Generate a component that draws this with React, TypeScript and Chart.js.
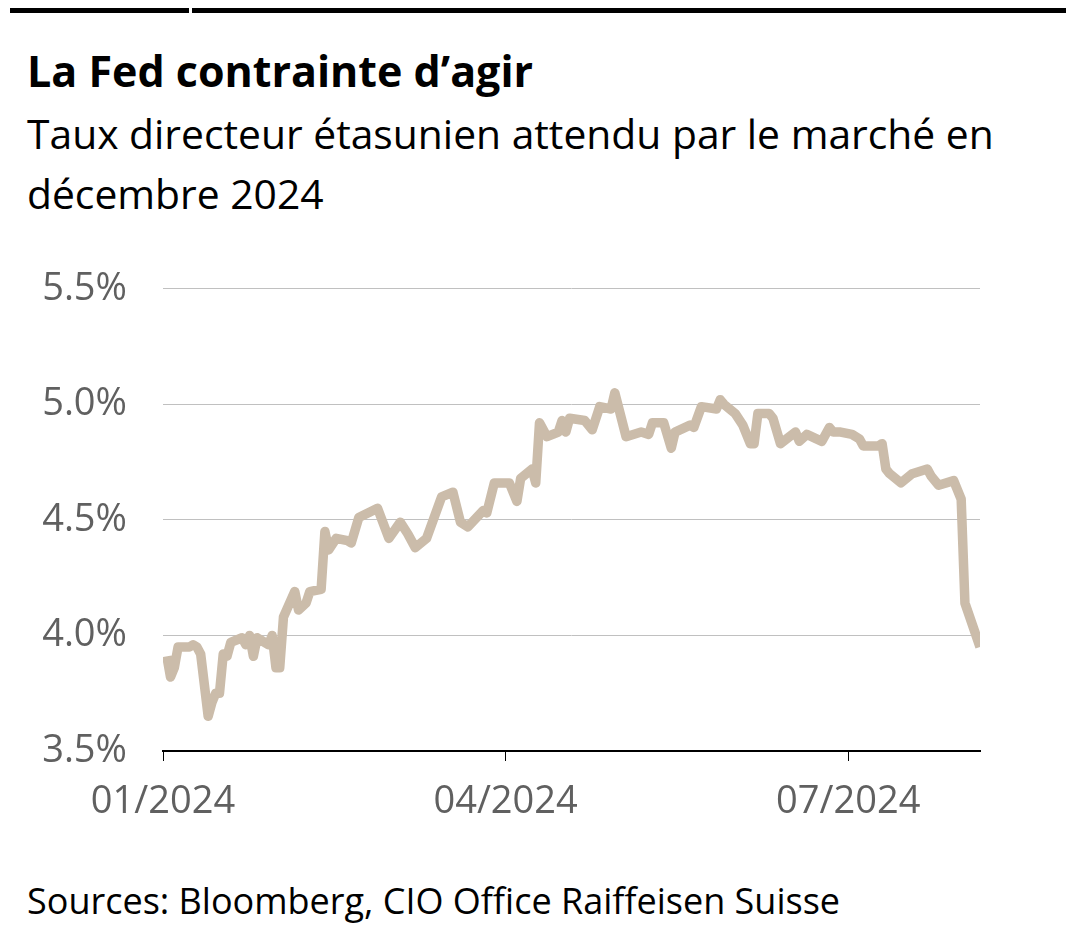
import React, { useEffect, useRef } from "react";
import { Chart, registerables } from "chart.js";

Chart.register(...registerables);

const dates = [
  "2024-01-02", "2024-01-03", "2024-01-04", "2024-01-05", "2024-01-08", "2024-01-09", "2024-01-10", "2024-01-11",
  "2024-01-13", "2024-01-14", "2024-01-15", "2024-01-16", "2024-01-17", "2024-01-18", "2024-01-19", "2024-01-22",
  "2024-01-23", "2024-01-24", "2024-01-25", "2024-01-26", "2024-01-28", "2024-01-29", "2024-01-30", "2024-01-31",
  "2024-02-01", "2024-02-02", "2024-02-05", "2024-02-06", "2024-02-08", "2024-02-09", "2024-02-12", "2024-02-13",
  "2024-02-14", "2024-02-16", "2024-02-19", "2024-02-20", "2024-02-22", "2024-02-27", "2024-03-01", "2024-03-04",
  "2024-03-06", "2024-03-08", "2024-03-11", "2024-03-15", "2024-03-18", "2024-03-20", "2024-03-22", "2024-03-26",
  "2024-03-27", "2024-03-29", "2024-04-02", "2024-04-04", "2024-04-05", "2024-04-08", "2024-04-09", "2024-04-10",
  "2024-04-12", "2024-04-15", "2024-04-16", "2024-04-17", "2024-04-18", "2024-04-22", "2024-04-24", "2024-04-26",
  "2024-04-29", "2024-04-30", "2024-05-03", "2024-05-07", "2024-05-09", "2024-05-10", "2024-05-13", "2024-05-15",
  "2024-05-16", "2024-05-20", "2024-05-21", "2024-05-23", "2024-05-27", "2024-05-28", "2024-05-29", "2024-06-01",
  "2024-06-03", "2024-06-05", "2024-06-06", "2024-06-07", "2024-06-10", "2024-06-11", "2024-06-13", "2024-06-17",
  "2024-06-18", "2024-06-20", "2024-06-24", "2024-06-26", "2024-06-27", "2024-06-29", "2024-07-02", "2024-07-04",
  "2024-07-05", "2024-07-09", "2024-07-10", "2024-07-11", "2024-07-12", "2024-07-15", "2024-07-18", "2024-07-22",
  "2024-07-23", "2024-07-25", "2024-07-29", "2024-07-30", "2024-07-31", "2024-08-01", "2024-08-05",
];

const rates = [
  3.91, 3.82, 3.86, 3.95, 3.95, 3.96, 3.95, 3.92,
  3.65, 3.71, 3.75, 3.75, 3.92, 3.91, 3.97, 3.99,
  3.96, 4.0, 3.91, 3.99, 3.97, 3.96, 4.0, 3.86,
  3.86, 4.08, 4.19, 4.11, 4.14, 4.19, 4.2, 4.45,
  4.37, 4.42, 4.41, 4.4, 4.51, 4.55, 4.42, 4.49,
  4.44, 4.38, 4.42, 4.6, 4.62, 4.49, 4.47, 4.54,
  4.53, 4.66, 4.66, 4.58, 4.68, 4.72, 4.66, 4.92,
  4.86, 4.88, 4.93, 4.88, 4.94, 4.93, 4.89, 4.99,
  4.98, 5.05, 4.86, 4.88, 4.87, 4.92, 4.92, 4.81,
  4.88, 4.91, 4.9, 4.99, 4.98, 5.02, 5.0, 4.96,
  4.91, 4.83, 4.83, 4.96, 4.96, 4.94, 4.83, 4.88,
  4.84, 4.87, 4.84, 4.9, 4.88, 4.88, 4.87, 4.85,
  4.82, 4.82, 4.83, 4.72, 4.7, 4.66, 4.7, 4.72,
  4.69, 4.65, 4.67, 4.63, 4.59, 4.14, 3.95,
];

const xTickDates = ["2024-01-01", "2024-04-01", "2024-07-01"];
const xTickLabels = ["01/2024", "04/2024", "07/2024"];
const xRangeDates = ["2024-01-01", "2024-08-05"];
const yTicks = [3.5, 4.0, 4.5, 5.0, 5.5];

const dayOf = (s: string) =>
  Math.round((Date.parse(s + "T00:00:00Z") - Date.UTC(2024, 0, 1)) / 86400000);

const FONT = "'Open Sans', 'Noto Sans', sans-serif";

export default function App() {
  const ref = useRef<HTMLCanvasElement | null>(null);

  useEffect(() => {
    if (!ref.current) return;
    const xTicks = xTickDates.map(dayOf);
    const chart = new Chart(ref.current, {
      type: "line",
      data: {
        datasets: [
          {
            data: dates.map((d, i) => ({ x: dayOf(d), y: rates[i] })),
            borderColor: "#cbbcaa",
            borderWidth: 9.5,
            pointRadius: 0,
            tension: 0,
            borderJoinStyle: "round",
            borderCapStyle: "butt",
          },
        ],
      },
      options: {
        animation: false,
        responsive: false,
        maintainAspectRatio: false,
        layout: { padding: { top: 27, right: 94, left: 0, bottom: 0 } },
        plugins: { legend: { display: false }, tooltip: { enabled: false } },
        scales: {
          x: {
            type: "linear",
            min: dayOf(xRangeDates[0]),
            max: dayOf(xRangeDates[1]),
            afterBuildTicks: (s: any) => {
              s.ticks = xTicks.map((v) => ({ value: v }));
            },
            afterFit: (s: any) => {
              s.height = 89;
            },
            ticks: {
              autoSkip: false,
              maxRotation: 0,
              padding: 18,
              color: "#606060",
              font: { family: FONT, size: 38, weight: "400" },
              callback: (v: any) => xTickLabels[xTicks.indexOf(Number(v))] ?? "",
            },
            grid: {
              display: true,
              drawOnChartArea: false,
              drawTicks: true,
              tickLength: 10,
              color: "#000",
              lineWidth: 1,
            },
            border: { display: true, color: "#000", width: 2 },
          },
          y: {
            min: 3.5,
            max: 5.5,
            afterBuildTicks: (s: any) => {
              s.ticks = yTicks.map((v) => ({ value: v }));
            },
            afterFit: (s: any) => {
              s.width = 163;
            },
            ticks: {
              padding: 36,
              color: "#606060",
              font: { family: FONT, size: 38, weight: "400" },
              callback: (v: any) => Number(v).toFixed(1) + "%",
            },
            grid: { color: "#c0c0c0", lineWidth: 1, drawTicks: false },
            border: { display: false },
          },
        },
      },
    });
    return () => chart.destroy();
  }, []);

  return (
    <div
      style={{
        position: "fixed",
        left: 0,
        top: 0,
        width: 1074,
        height: 943,
        background: "#fff",
        fontFamily: FONT,
        color: "#000",
        overflow: "hidden",
      }}
    >
      <div style={{ position: "absolute", left: 10, top: 8, width: 179, height: 5, background: "#000" }} />
      <div style={{ position: "absolute", left: 192, top: 8, width: 874, height: 5, background: "#000" }} />
      <div
        style={{
          position: "absolute",
          left: 27,
          top: 43,
          fontSize: 43,
          lineHeight: "56px",
          fontWeight: 700,
          whiteSpace: "nowrap",
        }}
      >
        La Fed contrainte d’agir
      </div>
      <div
        style={{
          position: "absolute",
          left: 27,
          top: 103,
          fontSize: 40.8,
          lineHeight: "60px",
          fontWeight: 400,
          width: 1040,
        }}
      >
        Taux directeur étasunien attendu par le marché en
        <br />
        décembre 2024
      </div>
      <canvas
        ref={ref}
        width={1074}
        height={610}
        style={{ position: "absolute", left: 0, top: 230, width: 1074, height: 610 }}
      />
      <div
        style={{
          position: "absolute",
          left: 27,
          top: 876,
          fontSize: 36,
          lineHeight: "50px",
          fontWeight: 400,
          whiteSpace: "nowrap",
        }}
      >
        Sources: Bloomberg, CIO Office Raiffeisen Suisse
      </div>
    </div>
  );
}
